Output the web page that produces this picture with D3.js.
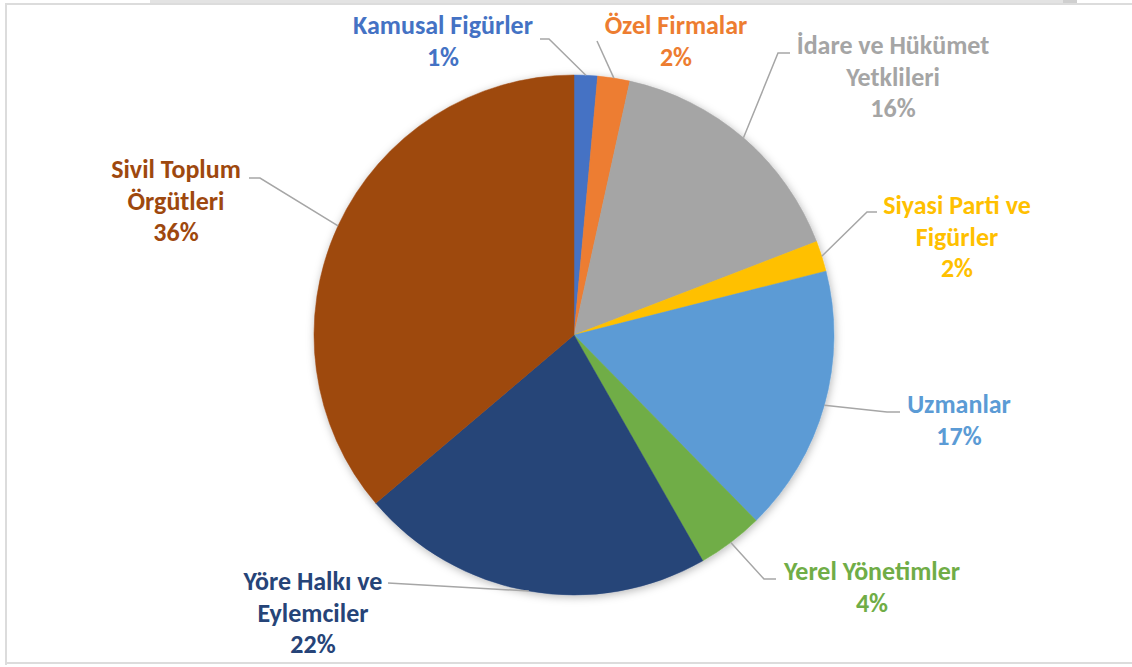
<!DOCTYPE html>
<html>
<head>
<meta charset="utf-8">
<script src="https://cdn.jsdelivr.net/npm/d3@7"></script>
<style>
  html, body { margin: 0; padding: 0; background: #ffffff; }
  svg { display: block; }
</style>
</head>
<body>
<svg id="chart" width="1132" height="667"></svg>
<script>
// ---- data ----
const categories = [
  "Kamusal Figürler",
  "Özel Firmalar",
  "İdare ve Hükümet Yetklileri",
  "Siyasi Parti ve Figürler",
  "Uzmanlar",
  "Yerel Yönetimler",
  "Yöre Halkı ve Eylemciler",
  "Sivil Toplum Örgütleri"
];
const values = [1.45, 2.0, 15.7, 1.9, 16.6, 4.1, 22.05, 36.2];
const labelLines = [
  ["Kamusal Figürler"],
  ["Özel Firmalar"],
  ["İdare ve Hükümet", "Yetklileri"],
  ["Siyasi Parti ve", "Figürler"],
  ["Uzmanlar"],
  ["Yerel Yönetimler"],
  ["Yöre Halkı ve", "Eylemciler"],
  ["Sivil Toplum", "Örgütleri"]
];
const colors = ["#4472C4", "#ED7D31", "#A5A5A5", "#FFC000", "#5B9BD5", "#70AD47", "#264478", "#9E480E"];

// ---- layout (positions of label blocks and leader-line elbows) ----
const cx = 574, cy = 335, R = 260;
const labelLayout = [
  { x: 443, y: 34,  pts: [[540, 39], [549, 39]] },
  { x: 676, y: 34,  pts: [[597, 41]] },
  { x: 893, y: 54,  pts: [[790, 53], [778, 53]] },
  { x: 957, y: 214, pts: [[877, 212], [867, 212]] },
  { x: 959, y: 413, pts: [[900, 412], [887, 412]] },
  { x: 872, y: 580, pts: [[776, 579], [764, 579]] },
  { x: 313, y: 590, pts: [[388, 583]] },
  { x: 176, y: 178, pts: [[249, 178], [260, 178]] }
];
const lineHeight = 31.7;

const svg = d3.select("#chart");

// frame
svg.append("rect").attr("x", 150).attr("y", 0).attr("width", 925).attr("height", 3).attr("fill", "#e3e3e3");
svg.append("rect").attr("x", 1063).attr("y", 0).attr("width", 14).attr("height", 3).attr("fill", "#cfcfcf");
svg.append("rect").attr("x", 5).attr("y", 3).attr("width", 1127).attr("height", 2).attr("fill", "#dcdcdc");
svg.append("rect").attr("x", 5).attr("y", 3).attr("width", 2).attr("height", 662).attr("fill", "#dcdcdc");
svg.append("rect").attr("x", 5).attr("y", 662).attr("width", 1127).attr("height", 2).attr("fill", "#dcdcdc");

const defs = svg.append("defs");
const f = defs.append("filter").attr("id", "shadow").attr("x", "-20%").attr("y", "-20%").attr("width", "140%").attr("height", "140%");
f.append("feDropShadow").attr("dx", 1).attr("dy", 2).attr("stdDeviation", 4).attr("flood-color", "#000").attr("flood-opacity", 0.28);

const data = categories.map((c, i) => ({ name: c, value: values[i], color: colors[i], lines: labelLines[i], lay: labelLayout[i] }));

const pie = d3.pie().value(d => d.value).sort(null).startAngle(0).endAngle(2 * Math.PI);
const arcs = pie(data);
const arc = d3.arc().innerRadius(0).outerRadius(R);

const g = svg.append("g").attr("transform", `translate(${cx},${cy})`);
const slices = g.append("g").attr("filter", "url(#shadow)");
slices.selectAll("path").data(arcs).join("path")
  .attr("d", arc)
  .attr("fill", d => d.data.color)
  .attr("stroke", d => d.data.color)
  .attr("stroke-width", 0.5);

// leader lines
const total = d3.sum(values);
const rimArc = d3.arc().innerRadius(R).outerRadius(R);
arcs.forEach(a => {
  const c = rimArc.centroid(a);
  const pts = a.data.lay.pts.concat([[cx + c[0], cy + c[1]]]);
  svg.append("path")
    .attr("d", d3.line()(pts))
    .attr("fill", "none")
    .attr("stroke", "#A6A6A6")
    .attr("stroke-width", 1.5);
});

// labels
const fmt = v => Math.round(v / total * 100) + "%";
arcs.forEach(a => {
  const d = a.data;
  const t = svg.append("text")
    .attr("text-anchor", "middle")
    .attr("font-family", "Carlito, Calibri, Lato, sans-serif")
    .attr("font-weight", "bold")
    .attr("font-size", 26)
    .attr("fill", d.color);
  const lines = d.lines.concat([fmt(d.value)]);
  lines.forEach((ln, i) => {
    t.append("tspan").attr("x", d.lay.x).attr("y", d.lay.y + i * lineHeight).text(ln);
  });
});
</script>
</body>
</html>
